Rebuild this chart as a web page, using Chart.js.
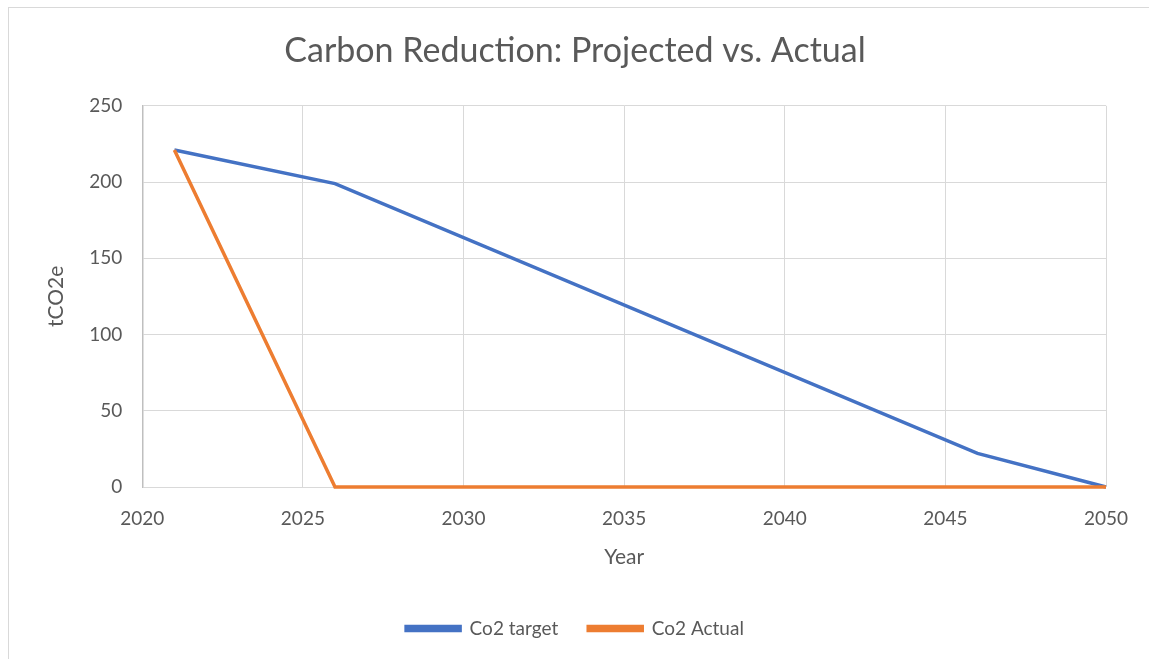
<!DOCTYPE html>
<html>
<head>
<meta charset="utf-8">
<script src="https://cdn.jsdelivr.net/npm/chart.js@4"></script>
<style>
    html, body { margin: 0; padding: 0; background: #fff; }
    #wrap { position: relative; width: 1149px; height: 659px; }
    #frame {
        position: absolute; left: 8px; top: 7px; width: 1150px; height: 660px;
        border: 1px solid #D9D9D9; box-sizing: border-box;
    }
    canvas { position: absolute; left: 0; top: 0; }
</style>
</head>
<body>
<div id="wrap">
    <div id="frame"></div>
    <canvas id="chart" width="1149" height="659"></canvas>
</div>
<script>
/* -----------------------------
   DATOS
----------------------------- */
const targetYears = [2021, 2026, 2046, 2050];
const targetValues = [221, 199, 22, 0];
const actualYears = [2021, 2026, 2050];
const actualValues = [221, 0, 0];
const xTicks = [2020, 2025, 2030, 2035, 2040, 2045, 2050];
const yTicks = [0, 50, 100, 150, 200, 250];

const FONT = "Lato, 'Open Sans', sans-serif";
const GRIS = "#595959";

function puntos(xs, ys) {
    return xs.map((x, i) => ({ x: x, y: ys[i] }));
}

const ctx = document.getElementById("chart");

new Chart(ctx, {
    type: "line",
    data: {
        datasets: [
            {
                label: "Co2 target",
                data: puntos(targetYears, targetValues),
                borderColor: "#4472C4",
                backgroundColor: "#4472C4",
                borderWidth: 3.5,
                pointRadius: 0,
                tension: 0,
                clip: 6,
                order: 1
            },
            {
                label: "Co2 Actual",
                data: puntos(actualYears, actualValues),
                borderColor: "#ED7D31",
                backgroundColor: "#ED7D31",
                borderWidth: 3.5,
                pointRadius: 0,
                tension: 0,
                clip: 6,
                order: 0
            }
        ]
    },
    options: {
        responsive: false,
        animation: false,
        layout: { padding: { left: 44, right: 43, top: 27, bottom: 11 } },
        plugins: {
            title: {
                display: true,
                text: "Carbon Reduction: Projected vs. Actual",
                color: GRIS,
                font: { family: FONT, size: 34, weight: "normal" },
                padding: { top: 4, bottom: 34 }
            },
            legend: {
                position: "bottom",
                labels: {
                    color: GRIS,
                    font: { family: FONT, size: 19 },
                    boxWidth: 54,
                    boxHeight: 4,
                    padding: 30,
                    sort: (a, b) => a.datasetIndex - b.datasetIndex
                }
            },
            tooltip: { enabled: false }
        },
        scales: {
            x: {
                type: "linear",
                min: 2020,
                max: 2050,
                afterBuildTicks: (axis) => { axis.ticks = xTicks.map(v => ({ value: v })); },
                ticks: {
                    color: GRIS,
                    font: { family: FONT, size: 19 },
                    padding: 20,
                    callback: (v) => String(v)
                },
                grid: { color: "#D9D9D9", lineWidth: 1, drawTicks: false },
                border: { display: false },
                title: {
                    display: true,
                    text: "Year",
                    color: GRIS,
                    font: { family: FONT, size: 21 },
                    padding: { top: -5, bottom: 19 }
                }
            },
            y: {
                min: 0,
                max: 250,
                afterBuildTicks: (axis) => { axis.ticks = yTicks.map(v => ({ value: v })); },
                ticks: {
                    color: GRIS,
                    font: { family: FONT, size: 19 },
                    padding: 20
                },
                grid: { color: "#D9D9D9", lineWidth: 1, drawTicks: false },
                border: { display: true, color: "#BFBFBF", width: 1.5 },
                title: {
                    display: true,
                    text: "tCO2e",
                    color: GRIS,
                    font: { family: FONT, size: 21 },
                    padding: { top: 0, bottom: 0 }
                }
            }
        }
    }
});
</script>
</body>
</html>
